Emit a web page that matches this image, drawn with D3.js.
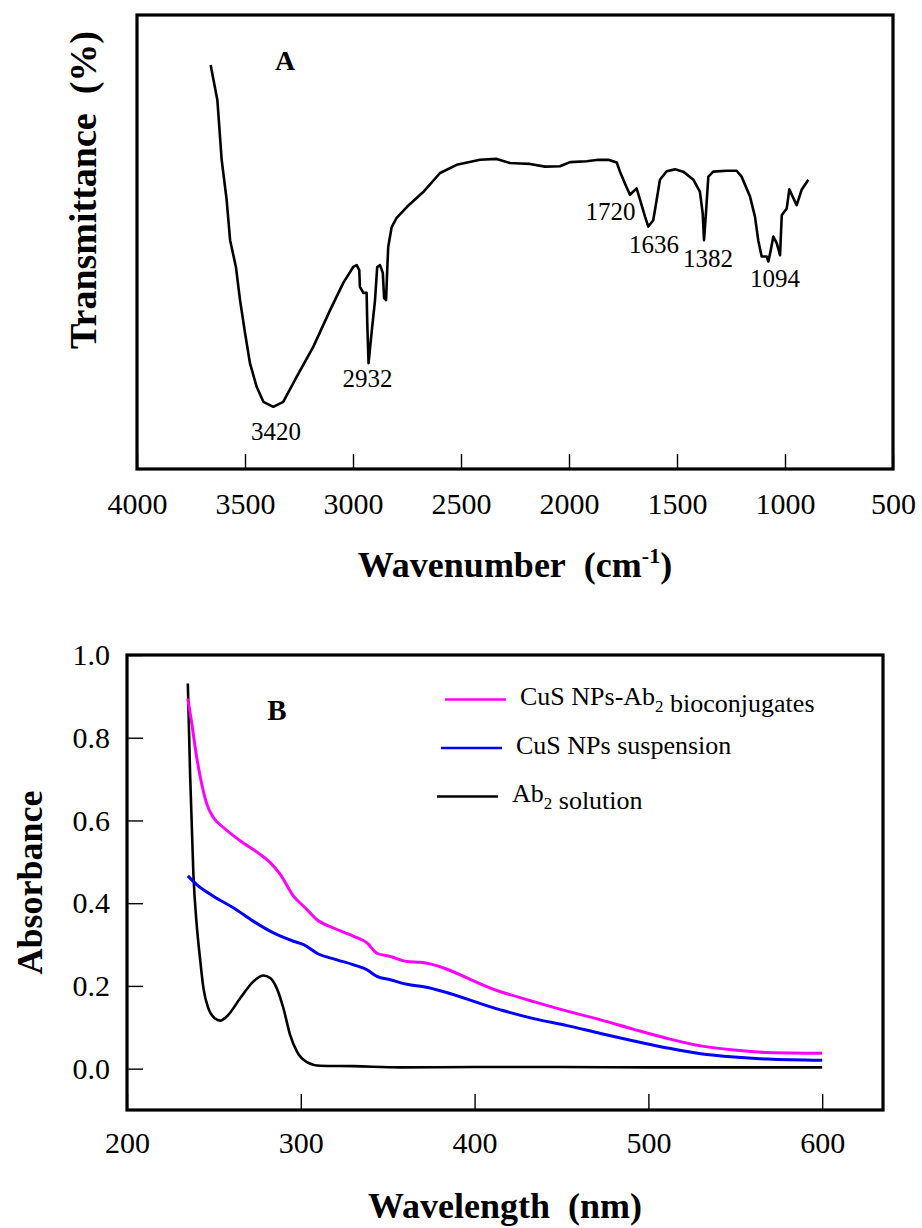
<!DOCTYPE html>
<html><head><meta charset="utf-8">
<script src="https://cdn.jsdelivr.net/npm/d3@7/dist/d3.min.js"></script>
<style>
body{margin:0;background:#fff}
svg{display:block}
text{font-family:"Liberation Serif","Times New Roman",serif;fill:#000}
</style>
</head><body>
<svg id="chart" width="922" height="1228"></svg>
<script>
// ---------- Panel A: FTIR ----------
const irWavenumber = [3659,3628,3608,3585,3569,3542,3523,3500,3477,3446,3415,3369,3323,3261,3184,3106,3045,2999,2983,2971,2968,2952,2937,2934,2928,2914,2898,2888,2875,2862,2856,2847,2841,2837,2821,2798,2751,2675,2597,2520,2412,2335,2273,2227,2181,2111,2042,1995,1918,1864,1818,1779,1764,1741,1718,1687,1671,1648,1633,1610,1594,1579,1548,1509,1471,1424,1394,1381,1375,1366,1355,1332,1270,1224,1201,1162,1139,1124,1108,1085,1077,1066,1054,1038,1023,1015,992,980,946,923,892];
const irTransmittance = [89.0,81.3,68.1,59.3,50.4,44.5,37.2,30.0,23.3,18.1,14.8,13.7,14.8,20.3,26.9,35.0,41.0,44.5,44.9,43.8,40.1,38.8,38.8,32.2,23.3,30.0,37.2,44.5,44.9,43.2,37.7,37.2,44.5,48.9,53.3,55.3,57.7,61.0,65.2,67.0,68.1,68.3,67.4,67.3,67.2,66.6,66.7,67.6,67.8,68.1,68.1,67.5,65.5,62.9,60.4,61.8,59.3,55.6,53.4,54.8,59.3,63.7,65.6,66.0,65.5,63.7,61.1,56.3,50.4,56.3,64.4,65.5,65.7,65.7,64.4,60.0,55.6,50.4,46.8,46.8,45.7,48.2,51.2,49.7,47.1,55.9,57.4,61.6,58.1,61.5,63.7];
const irTicks = [4000,3500,3000,2500,2000,1500,1000,500];
const peakLabels = ["3420","2932","1720","1636","1382","1094"];
const peakLabelWn = [3356,2933,1808,1606,1356,1046];
const peakLabelT = [6.4,18.1,54.8,47.6,44.5,40.1];

// ---------- Panel B: UV-vis ----------
const uvTicksX = [200,300,400,500,600];
const uvTicksY = [0,0.2,0.4,0.6,0.8,1.0];
const seriesNames = ["CuS NPs-Ab_2 bioconjugates","CuS NPs suspension","Ab_2 solution"];
const seriesColors = ["#ff00ff","#0000ff","#000000"];
const conjWl = [235.0,237.3,240.1,243.0,245.9,249.7,255.5,265.1,276.6,282.4,288.1,295.8,302.5,309.3,318.8,330.4,338.1,343.8,351.5,361.1,368.8,414.9,434.0,453.3,472.5,491.6,510.9,530.1,549.3,568.5,600.0];
const conjAbs = [0.895,0.834,0.753,0.688,0.640,0.607,0.583,0.551,0.518,0.498,0.470,0.417,0.389,0.360,0.340,0.320,0.304,0.279,0.271,0.259,0.257,0.186,0.162,0.139,0.118,0.095,0.073,0.055,0.045,0.039,0.037];
const cusWl = [235.0,240.1,249.7,261.2,272.8,284.3,295.8,301.6,309.3,320.8,330.4,338.1,343.8,351.5,361.1,370.7,414.9,434.0,453.3,472.5,491.6,510.9,530.1,549.3,568.5,600.0];
const cusAbs = [0.466,0.445,0.417,0.389,0.356,0.328,0.308,0.300,0.279,0.263,0.251,0.239,0.223,0.215,0.204,0.198,0.142,0.121,0.104,0.085,0.067,0.050,0.036,0.028,0.023,0.020];
const abWl = [235.0,236.3,238.2,240.1,242.0,244.0,246.8,250.7,253.6,257.4,265.1,272.8,278.5,282.4,286.2,290.0,293.9,297.8,303.5,311.2,330.4,357.3,400,450,500,550,600];
const abAbs = [0.931,0.713,0.470,0.348,0.267,0.194,0.146,0.121,0.116,0.126,0.170,0.211,0.225,0.219,0.194,0.146,0.081,0.041,0.016,0.007,0.006,0.003,0.004,0.004,0.003,0.003,0.003];

const svg = d3.select("#chart");
const serif = '"Liberation Serif","Times New Roman",serif';

// ===== Panel A =====
const A = {l:137, r:893, t:15, b:469};
const xA = d3.scaleLinear().domain([4000,500]).range([A.l,A.r]);
const yA = d3.scaleLinear().domain([0,100]).range([A.b,A.t]);
const gA = svg.append("g");

const axA = gA.append("g").attr("transform",`translate(0,${A.b})`)
  .call(d3.axisBottom(xA).tickValues(irTicks).tickSize(-15).tickPadding(24).tickFormat(d3.format("d")));
axA.select(".domain").remove();
axA.selectAll(".tick line").attr("stroke","#000").attr("stroke-width",1.4);
axA.selectAll(".tick text").style("font-size","30px").style("font-family",serif).attr("fill","#000");

gA.append("path")
  .datum(irWavenumber.map((w,i)=>[w,irTransmittance[i]]))
  .attr("fill","none").attr("stroke","#000").attr("stroke-width",2.6)
  .attr("stroke-linejoin","round")
  .attr("d", d3.line().x(d=>xA(d[0])).y(d=>yA(d[1])));

gA.append("rect").attr("x",A.l).attr("y",A.t).attr("width",A.r-A.l).attr("height",A.b-A.t)
  .attr("fill","none").attr("stroke","#000").attr("stroke-width",3.2);

gA.selectAll(".peak").data(peakLabels).join("text").attr("class","peak")
  .attr("x",(d,i)=>xA(peakLabelWn[i])).attr("y",(d,i)=>yA(peakLabelT[i]))
  .attr("text-anchor","middle").style("font-size","25px").style("font-family",serif).text(d=>d);

gA.append("text").attr("x",285).attr("y",70).attr("text-anchor","middle")
  .style("font-size","28px").style("font-family",serif).attr("font-weight","bold").text("A");

const xlabA = gA.append("text").attr("x",(A.l+A.r)/2).attr("y",577).attr("text-anchor","middle")
  .style("font-size","36px").style("font-family",serif).attr("font-weight","bold");
xlabA.append("tspan").text("Wavenumber\u00a0 (cm");
xlabA.append("tspan").attr("dy",-14).style("font-size","22px").text("-1");
xlabA.append("tspan").attr("dy",14).text(")");

gA.append("text").attr("transform","translate(96,190) rotate(-90)").attr("text-anchor","middle")
  .style("font-size","38px").style("font-family",serif).attr("font-weight","bold").text("Transmittance\u00a0 (%)");

// ===== Panel B =====
const B = {l:127, r:883, t:655, b:1110};
const xB = d3.scaleLinear().domain([200,635]).range([B.l,B.r]);
const yB = d3.scaleLinear().domain([-0.1,1.0]).range([B.b,B.t]);
const gB = svg.append("g");

const axBx = gB.append("g").attr("transform",`translate(0,${B.b})`)
  .call(d3.axisBottom(xB).tickValues(uvTicksX).tickSize(-16).tickPadding(22).tickFormat(d3.format("d")));
axBx.select(".domain").remove();
axBx.selectAll(".tick line").attr("stroke","#000").attr("stroke-width",1.4);
axBx.selectAll(".tick text").style("font-size","30px").style("font-family",serif).attr("fill","#000");

const axBy = gB.append("g").attr("transform",`translate(${B.l},0)`)
  .call(d3.axisLeft(yB).tickValues(uvTicksY).tickSize(-16).tickPadding(17).tickFormat(d3.format(".1f")));
axBy.select(".domain").remove();
axBy.selectAll(".tick line").attr("stroke","#000").attr("stroke-width",1.4);
axBy.selectAll(".tick text").style("font-size","30px").style("font-family",serif).attr("fill","#000");

const seriesData = [
  conjWl.map((w,i)=>[w,conjAbs[i]]),
  cusWl.map((w,i)=>[w,cusAbs[i]]),
  abWl.map((w,i)=>[w,abAbs[i]])
];
const lineB = d3.line().curve(d3.curveMonotoneX).x(d=>xB(d[0])).y(d=>yB(d[1]));
[2,1,0].forEach(i=>{
  gB.append("path").datum(seriesData[i]).attr("fill","none")
    .attr("stroke",seriesColors[i]).attr("stroke-width",i===2?2.6:3)
    .attr("d",lineB);
});

gB.append("rect").attr("x",B.l).attr("y",B.t).attr("width",B.r-B.l).attr("height",B.b-B.t)
  .attr("fill","none").attr("stroke","#000").attr("stroke-width",3.2);

gB.append("text").attr("x",277).attr("y",720).attr("text-anchor","middle")
  .style("font-size","29px").style("font-family",serif).attr("font-weight","bold").text("B");

// legend
seriesNames.forEach((name,i)=>{
  const x0 = 445 - i*4, base = 705 + i*48.5;
  gB.append("line").attr("x1",x0).attr("x2",x0+61).attr("y1",base-5.5).attr("y2",base-5.5)
    .attr("stroke",seriesColors[i]).attr("stroke-width",2.6);
  const t = gB.append("text").attr("x",x0+75).attr("y",base)
    .style("font-size","26px").style("font-family",serif);
  const parts = name.split("_2");
  parts.forEach((p,k)=>{
    t.append("tspan").text(p);
    if(k<parts.length-1){
      t.append("tspan").attr("dy",7).style("font-size","17px").text("2");
      t.append("tspan").attr("dy",-7).text("");
    }
  });
});

gB.append("text").attr("x",(B.l+B.r)/2).attr("y",1218).attr("text-anchor","middle")
  .style("font-size","36px").style("font-family",serif).attr("font-weight","bold").text("Wavelength\u00a0 (nm)");

gB.append("text").attr("transform",`translate(42,${(B.t+B.b)/2}) rotate(-90)`).attr("text-anchor","middle")
  .style("font-size","36px").style("font-family",serif).attr("font-weight","bold").text("Absorbance");
</script>
</body></html>
